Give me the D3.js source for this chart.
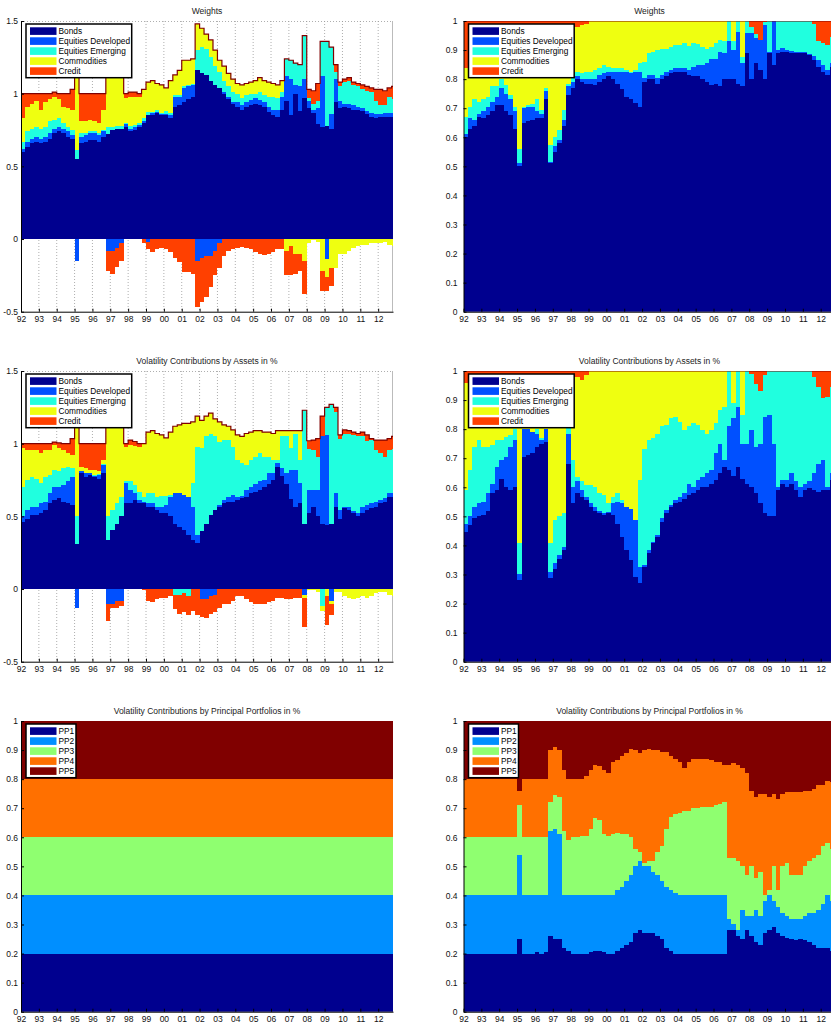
<!DOCTYPE html>
<html lang="en">
<head>
<meta charset="UTF-8">
<title>Weights and Volatility Contributions</title>
<script src="https://d3js.org/d3.v7.min.js"></script>
<style>
  body { margin: 0; background: #fff; }
  svg { display: block; font-family: "Liberation Sans", Arial, Helvetica, sans-serif; }
  .title { font-size: 8.5px; fill: #222; }
  .tick text { font-size: 8.5px; fill: #111; }
  .legend text { font-size: 8.3px; fill: #000; }
  .layer { shape-rendering: crispEdges; }
</style>
</head>
<body>
<svg width="831" height="1024"></svg>
<script>
// quarterly observations, Jan 1992 .. Oct 2012
const quarters = d3.range(84).map(i => 1992 + i / 4);
const endYear = 2012.83;
const yearTicks = ["92","93","94","95","96","97","98","99","00","01","02","03","04","05","06","07","08","09","10","11","12"];
const assetNames = ["Bonds", "Equities Developed", "Equities Emerging", "Commodities", "Credit"];
const ppNames = ["PP1", "PP2", "PP3", "PP4", "PP5"];

// ---- Weights (left) ----
const w1Bonds = [.60,.635,.66,.67,.66,.67,.69,.73,.74,.73,.70,.69, .55,.66,.67,.68,.68,.67,.70,.72,.75,.76,.76,.77,
  .74,.75,.77,.80,.85,.85,.865,.85,.85,.83,.91,.92, .945,.96,.98,1.16,1.14,1.13,1.09,1.06,1.04,1.00,.96,.93,
  .91,.89,.91,.92,.93,.92,.91,.875,.855,.84,.89,.95, .85,1.00,.88,.97,.90,.87,.79,.77,.78,.76,.94,.90,
  .91,.90,.89,.89,.88,.86,.84,.83,.84,.84,.84,.84];
const w1EqDev = [.02,.035,.025,.03,.03,.03,.04,.03,.03,.03,.04,.025, -.15,.04,.045,.05,.05,.045,.04,-.08,-.08,-.06,-.03,.02,
  .02,.02,.015,.01,-.02,.015,.01,.01,.01,.02,.07,.06, .095,.09,.08,-.15,-.13,-.12,-.12,-.08,-.03,.01,.02,.015,
  .035,.03,.035,.035,.04,.035,.035,.035,.035,.05,.09,.17, .25,.06,.17,.13,.05,.02,.11,.35,-.14,.10,.16,.05,
  .02,.03,.03,.02,.02,.02,.03,.03,.02,.03,.03,.03];
const w1EqEm = [.05,.07,.075,.07,.07,.07,.08,.06,.06,.04,.03,.035, .06,.03,.015,.01,.01,.015,.01,.05,.02,.02,.02,.01,
  .02,.015,.01,.02,.025,.01,.01,.01,.02,.015,.01,.01, .01,.01,.01,.14,.18,.18,.16,.13,.11,.08,.07,.065,
  .055,.05,.045,.045,.03,.055,.045,.07,.09,.08,.03,.12, .13,.15,.15,.30,.02,.04,.05,.24,.58,.46,.05,.10,
  .15,.16,.14,.14,.13,.14,.14,.09,.06,.05,.11,.09];
const w1Comm = [.16,.17,.17,.18,.13,.175,.15,.16,.13,.11,.13,.14, .52,.08,.08,.08,.07,.07,.14,.45,.43,.42,.37,.17,
  .20,.195,.185,.20,.205,.215,.185,.19,.16,.225,.14,.17, .18,.17,.17,.18,.13,.10,.12,.11,.08,.10,.09,.09,
  .07,.09,.08,.08,.09,.10,.10,.10,.09,.09,.08,-.08, -.05,-.10,-.10,-.15,-.03,-.01,-.02,-.22,-.12,-.20,-.20,-.10,
  -.10,-.08,-.06,-.05,-.04,-.04,-.03,-.03,-.03,-.02,-.04,-.05];
const w1Credit = [.17,.09,.07,.05,.11,.055,.04,.03,.04,.09,.10,.14, .02,.19,.19,.18,.19,.20,.11,-.14,-.16,-.13,-.12,.03,
  .03,.03,.02,-.03,-.05,-.09,-.07,-.06,-.07,-.09,-.13,-.16, -.23,-.23,-.24,-.32,-.30,-.28,-.21,-.17,-.17,-.12,-.08,-.07,
  -.06,-.055,-.06,-.07,-.09,-.10,-.11,-.10,-.09,-.07,-.07,-.17, -.20,-.14,-.12,-.23,.06,.09,.12,-.14,-.10,-.12,.05,.03,
  .02,.02,.02,.02,.03,.03,.03,.08,.11,.10,.06,.09];

// ---- Weights (right) ----
const w2Bonds = [.60,.63,.64,.67,.665,.675,.69,.71,.71,.69,.675,.63, .50,.65,.655,.66,.665,.665,.73,.51,.55,.58,.64,.745,
  .77,.80,.79,.785,.785,.78,.79,.80,.81,.80,.785,.765, .74,.73,.717,.705,.79,.80,.80,.785,.80,.81,.82,.825,
  .825,.825,.815,.81,.81,.80,.79,.78,.785,.775,.80,.80, .80,.785,.775,.89,.80,.855,.83,.80,.89,.85,.89,.894,
  .894,.89,.89,.89,.89,.883,.866,.843,.825,.815,.843,.85];
const w2EqDev = [.01,.035,.02,.01,.025,.03,.03,.03,.06,.06,.055,.06, .01,.05,.05,.045,.025,.015,.03,.005,.02,.01,.02,.03,
  .02,.01,.01,.015,.015,.02,.025,.02,.015,.025,.04,.06, .085,.09,.108,.12,.015,.015,.015,.02,.015,.015,.01,.012,
  .012,.012,.015,.033,.04,.05,.065,.09,.085,.12,.09,.13, .10,.178,.08,.07,.16,.085,.105,.185,.005,.15,.01,.012,
  .006,.006,.003,.003,.003,.003,.014,.023,.025,.015,.011,.01];
const w2EqEm = [.06,.04,.07,.04,.04,.035,.055,.035,.03,.03,.015,.015, .05,.005,.005,.01,.04,.015,.01,.06,.03,.035,.035,.01,
  .02,.015,.02,.025,.025,.03,.022,.03,.018,.012,.012,.012, .005,.005,.005,.03,.055,.075,.08,.095,.09,.08,.08,.08,
  .08,.086,.085,.08,.07,.06,.05,.04,.053,.04,.04,.07, .03,.037,.02,.04,.02,.017,0,.01,.105,0,.10,.094,
  .10,.104,.107,.107,.107,.114,.11,.064,.073,.087,.092,.09];
const w2Comm = [.17,.265,.25,.265,.255,.245,.21,.21,.185,.205,.24,.28, .425,.28,.275,.27,.255,.29,.215,.41,.385,.36,.29,.20,
  .17,.155,.165,.165,.175,.17,.163,.15,.157,.163,.163,.163, .17,.175,.17,.145,.14,.11,.105,.10,.095,.095,.09,.083,
  .083,.077,.085,.077,.08,.09,.095,.09,.077,.065,.07,0, .07,0,.125,0,0,0,0,0,0,0,0,0,
  0,0,0,0,0,0,0,0,0,0,0,0];
const w2Credit = [.16,.03,.02,.015,.015,.015,.015,.015,.015,.015,.015,.015, .015,.015,.015,.015,.015,.015,.015,.015,.015,.015,.015,.015,
  .02,.02,.015,.01,0,0,0,0,0,0,0,0, 0,0,0,0,0,0,0,0,0,0,0,0,
  0,0,0,0,0,0,0,0,0,0,0,0, 0,0,0,0,.02,.043,.065,.005,0,0,0,0,
  0,0,0,0,0,0,.01,.07,.077,.083,.054,.05];

// ---- Volatility contributions by assets (left) ----
const v1Bonds = [.46,.485,.51,.51,.52,.545,.59,.61,.625,.60,.59,.58, .31,.795,.77,.785,.77,.76,.795,.34,.405,.45,.50,.59,
  .59,.61,.59,.59,.565,.565,.545,.52,.52,.50,.45,.43, .405,.37,.34,.315,.40,.45,.51,.545,.565,.59,.60,.60,
  .61,.625,.635,.66,.67,.68,.705,.725,.75,.84,.775,.725, .62,.565,.59,.45,.52,.565,.50,.45,.44,.45,.565,.485,
  .555,.545,.52,.50,.52,.545,.555,.565,.59,.60,.635,.635];
const v1EqDev = [.04,.06,.055,.055,.07,.055,.07,.09,.075,.115,.15,.19, -.13,.015,.025,.01,.01,.025,.06,-.10,-.10,-.08,-.08,.14,
  .09,.05,.02,.01,.025,.025,.02,.045,.06,.135,.21,.23, .24,.265,.225,.055,-.07,-.07,-.05,-.04,.015,.02,.035,.045,
  .025,.015,.045,.04,.055,.06,.045,.07,.045,.025,.055,.07, .20,.255,.14,-.04,.16,.115,.18,.60,.62,-.08,.095,.06,
  .01,.02,.02,.02,.045,.035,.035,.035,.02,.025,.025,.025];
const v1EqEm = [.20,.205,.205,.195,.14,.17,.125,.12,.11,.115,.10,.06, .19,0,.005,.005,.005,.005,.005,.16,.14,.14,.135,.01,
  .06,.055,.06,.035,.07,.07,.07,.075,.06,.01,-.04,-.04, -.03,-.05,.165,.61,.57,.60,.56,.505,.43,.415,.39,.335,
  .255,.225,.175,.19,.185,.195,.16,.115,.095,.025,.22,.255, .15,.25,.16,.78,.28,.275,.23,-.12,.19,.82,.56,.49,
  .50,.505,.52,.53,.49,.435,.435,.355,.325,.285,.295,.30];
const v1Comm = [.27,.205,.185,.195,.205,.185,.17,.17,.16,.125,.095,.09, .70,.03,.03,.02,.035,.02,.03,.70,.655,.56,.485,.24,
  .25,.27,.31,.365,.42,.43,.435,.42,.40,.435,.46,.47, .495,.505,.42,.21,.19,.14,.14,.12,.14,.105,.095,.115,
  .17,.185,.215,.19,.18,.155,.17,.17,.18,.20,.04,.04, .12,.02,.20,-.02,-.01,-.01,-.02,-.03,-.05,-.02,-.02,-.02,
  -.05,-.06,-.07,-.06,-.05,-.06,-.05,-.03,-.02,-.02,-.04,-.05];
const v1Credit = [.03,.045,.045,.045,.065,.045,.045,.02,.035,.045,.065,.115, .01,.16,.17,.18,.18,.19,.11,-.12,-.03,-.05,-.04,.02,
  .035,.03,.02,-.01,-.08,-.09,-.07,-.06,-.06,-.05,-.10,-.13, -.13,-.13,-.15,-.18,-.12,-.13,-.12,-.12,-.13,-.10,-.10,-.08,
  -.05,-.05,-.07,-.09,-.10,-.10,-.10,-.09,-.08,-.06,-.06,-.07, -.07,-.06,-.06,-.20,.06,.07,.125,.14,-.20,-.08,.03,.025,
  .03,.02,.02,.02,.025,.045,.01,.07,.09,.115,.08,.09];

// ---- Volatility contributions by assets (right) ----
const v2Bonds = [.447,.47,.493,.50,.505,.52,.58,.59,.63,.60,.59,.60, .28,.705,.71,.717,.74,.75,.757,.287,.32,.355,.385,.68,
  .545,.58,.568,.556,.533,.52,.51,.505,.51,.505,.475,.43, .385,.35,.29,.27,.327,.373,.407,.43,.48,.51,.533,.545,
  .55,.56,.573,.58,.59,.60,.60,.613,.625,.648,.67,.66, .64,.67,.63,.613,.60,.58,.545,.51,.50,.50,.59,.613,
  .60,.613,.59,.568,.59,.596,.59,.585,.59,.59,.625,.63];
const v2EqDev = [.028,.03,.04,.045,.045,.06,.033,.08,.064,.105,.15,.163, .02,.095,.09,.073,.045,.013,.043,.02,.02,.012,.01,.105,
  .055,.04,.022,.012,.012,.013,.01,.005,.005,.04,.075,.115, .148,.177,.197,.057,.006,.011,.006,.006,.013,.012,.007,.011,
  .018,.02,.04,.02,.035,.036,.048,.047,.092,.102,.024,.15, .20,.207,.12,.137,.197,.16,.205,.333,.35,.25,.01,.012,
  .025,.035,.03,.032,.023,.024,.058,.095,.104,.01,.023,.02];
const v2EqEm = [.115,.16,.207,.218,.19,.16,.132,.093,.07,.069,.04,.037, .11,0,0,0,.015,.007,0,.103,.147,.133,.115,.03,
  .094,.016,.03,.04,.063,.067,.06,.063,.03,.023,.03,.011, 0,0,0,.298,.40,.379,.355,.349,.317,.292,.297,.287,
  .258,.217,.197,.22,.189,.161,.137,.137,.103,.116,.183,.19, .05,.123,.10,.25,.193,.217,.18,.143,.15,.25,.40,.375,
  .375,.352,.38,.40,.387,.38,.332,.266,.212,.31,.298,.30];
const v2Comm = [.37,.32,.245,.222,.245,.245,.24,.222,.221,.211,.205,.185, .57,.185,.185,.195,.185,.215,.185,.575,.498,.485,.475,.17,
  .286,.344,.35,.377,.392,.40,.42,.427,.455,.432,.42,.444, .467,.473,.513,.375,.267,.237,.232,.215,.19,.186,.163,.157,
  .174,.203,.19,.18,.186,.203,.215,.203,.18,.134,.123,0, .11,0,.15,0,0,0,0,0,0,0,0,0,
  0,0,0,0,0,0,0,0,0,0,0,0];
const v2Credit = [.04,.02,.015,.015,.015,.015,.015,.015,.015,.015,.015,.015, .02,.015,.015,.015,.015,.015,.015,.015,.015,.015,.015,.015,
  .02,.02,.03,.015,0,0,0,0,0,0,0,0, 0,0,0,0,0,0,0,0,0,0,0,0,
  0,0,0,0,0,0,0,0,0,0,0,0, 0,0,0,0,.01,.043,.07,.014,0,0,0,0,
  0,0,0,0,0,0,.02,.054,.094,.09,.054,.05];

// ---- Volatility contributions by principal portfolios ----
const pp1Dates = [1992];
const pp1Values = [[.2], [.2], [.2], [.2], [.2]];

const pp2PP1 = [.2,.2,.2,.2,.2,.2,.2,.2,.2,.2,.2,.2, .25,.20,.20,.20,.205,.20,.205,.26,.25,.25,.22,.21,
  .20,.20,.20,.20,.205,.21,.21,.205,.20,.20,.21,.22, .23,.24,.27,.28,.27,.27,.27,.26,.25,.22,.21,.20,
  .20,.20,.20,.20,.20,.20,.20,.20,.20,.20,.20,.28, .28,.26,.25,.28,.26,.24,.23,.27,.28,.29,.27,.26,
  .255,.25,.245,.25,.245,.24,.23,.22,.22,.22,.21,.21];
const pp2PP2 = [.2,.2,.2,.2,.2,.2,.2,.2,.2,.2,.2,.2, .29,.20,.20,.20,.195,.20,.195,.36,.38,.36,.18,.19,
  .20,.20,.20,.20,.195,.19,.19,.195,.20,.20,.21,.21, .22,.23,.23,.24,.23,.23,.21,.21,.20,.21,.21,.21,
  .20,.20,.20,.20,.20,.20,.20,.20,.20,.20,.20,.04, .02,.02,.10,.05,.07,.11,.10,.11,.12,.09,.09,.08,
  .075,.07,.075,.07,.085,.10,.11,.13,.15,.18,.17,.16];
const pp2PP3 = [.2,.2,.2,.2,.2,.2,.2,.2,.2,.2,.2,.2, .17,.20,.20,.20,.20,.20,.20,.10,.115,.13,.22,.19,
  .20,.20,.205,.205,.23,.265,.26,.21,.205,.21,.195,.18, .16,.13,.06,.03,.01,.02,.04,.08,.12,.20,.25,.27,
  .285,.29,.29,.30,.30,.305,.305,.305,.31,.315,.32,.21, .23,.24,.15,.14,.17,.11,.15,.02,.02,.12,.06,.16,
  .18,.15,.15,.15,.17,.18,.19,.19,.20,.18,.18,.18];
const pp2PP4 = [.2,.2,.2,.2,.2,.2,.2,.2,.2,.2,.2,.2, .05,.20,.20,.20,.20,.20,.20,.18,.165,.16,.21,.21,
  .20,.20,.195,.205,.20,.185,.185,.22,.215,.25,.25,.27, .28,.305,.34,.34,.39,.385,.38,.35,.325,.265,.21,.19,
  .175,.15,.17,.17,.17,.165,.165,.16,.15,.145,.13,.32, .325,.33,.34,.35,.26,.28,.27,.35,.32,.25,.31,.25,
  .245,.285,.285,.285,.26,.24,.235,.24,.21,.215,.23,.23];
const pp2PP5 = [.2,.2,.2,.2,.2,.2,.2,.2,.2,.2,.2,.2, .24,.20,.20,.20,.20,.20,.20,.10,.09,.10,.17,.20,
  .20,.20,.20,.19,.17,.15,.155,.17,.18,.14,.135,.12, .11,.095,.10,.11,.10,.095,.10,.10,.105,.105,.12,.13,
  .14,.16,.14,.13,.13,.13,.13,.135,.14,.14,.15,.15, .145,.15,.16,.18,.24,.26,.25,.25,.26,.25,.27,.25,
  .245,.245,.245,.245,.24,.24,.235,.22,.22,.205,.21,.22];

const assetColors = ["#00008f", "#0050ff", "#20ffdf", "#efff10", "#ff4000"];
const ppColors = ["#00008f", "#008fff", "#8fff70", "#ff7000", "#800000"];
const edgeColor = "#800000";

const panels = [
  {title: "Weights", col: 0, row: 0, dates: quarters, names: assetNames, colors: assetColors, edge: true,
   series: [w1Bonds, w1EqDev, w1EqEm, w1Comm, w1Credit], yDomain: [-0.5, 1.5], yTicks: [-0.5, 0, 0.5, 1, 1.5]},
  {title: "Weights", col: 1, row: 0, dates: quarters, names: assetNames, colors: assetColors, edge: true,
   series: [w2Bonds, w2EqDev, w2EqEm, w2Comm, w2Credit], yDomain: [0, 1], yTicks: d3.range(0, 1.01, 0.1)},
  {title: "Volatility Contributions by Assets in %", col: 0, row: 1, dates: quarters, names: assetNames, colors: assetColors, edge: true,
   series: [v1Bonds, v1EqDev, v1EqEm, v1Comm, v1Credit], yDomain: [-0.5, 1.5], yTicks: [-0.5, 0, 0.5, 1, 1.5]},
  {title: "Volatility Contributions by Assets in %", col: 1, row: 1, dates: quarters, names: assetNames, colors: assetColors, edge: true,
   series: [v2Bonds, v2EqDev, v2EqEm, v2Comm, v2Credit], yDomain: [0, 1], yTicks: d3.range(0, 1.01, 0.1)},
  {title: "Volatility Contributions by Principal Portfolios in %", col: 0, row: 2, dates: pp1Dates, names: ppNames, colors: ppColors, edge: false,
   series: pp1Values, yDomain: [0, 1], yTicks: d3.range(0, 1.01, 0.1)},
  {title: "Volatility Contributions by Principal Portfolios in %", col: 1, row: 2, dates: quarters, names: ppNames, colors: ppColors, edge: false,
   series: [pp2PP1, pp2PP2, pp2PP3, pp2PP4, pp2PP5], yDomain: [0, 1], yTicks: d3.range(0, 1.01, 0.1)}
];

const svg = d3.select("svg");
const colLeft = [21, 463.5], plotW = 372;
const rowTop = [21, 371, 721], plotH = 290.7;
const yearVals = yearTicks.map((d, i) => 1992 + i);
const fmt = d => String(Math.round(d * 10) / 10);

panels.forEach((p, pi) => {
  const x0 = colLeft[p.col], top = rowTop[p.row], bottom = top + plotH;
  const x = d3.scaleLinear().domain([1992, endYear]).range([x0, x0 + plotW]);
  const y = d3.scaleLinear().domain(p.yDomain).range([bottom, top]);
  const g = svg.append("g");

  g.append("clipPath").attr("id", "clip" + pi)
    .append("rect").attr("x", x0).attr("y", top).attr("width", plotW).attr("height", plotH);

  // dotted year grid
  g.selectAll(".grid").data(yearVals.slice(1)).join("line")
    .attr("x1", d => x(d)).attr("x2", d => x(d))
    .attr("y1", top).attr("y2", bottom)
    .attr("stroke", "#999").attr("stroke-width", 0.8).attr("stroke-dasharray", "1,2");
  g.append("line").attr("x1", x0).attr("x2", x0 + plotW).attr("y1", top + 0.5).attr("y2", top + 0.5)
    .attr("stroke", "#999").attr("stroke-width", 0.8).attr("stroke-dasharray", "1,2");
  g.append("line").attr("x1", x0 + plotW - 0.5).attr("x2", x0 + plotW - 0.5).attr("y1", top).attr("y2", bottom)
    .attr("stroke", "#aaa").attr("stroke-width", 0.8);

  const rows = p.dates.map((t, i) => {
    const r = {t};
    p.series.forEach((s, k) => { r[k] = s[i]; });
    return r;
  });
  rows.push(Object.assign({}, rows[rows.length - 1], {t: endYear}));
  const keys = p.series.map((s, k) => k);
  const stacked = d3.stack().keys(keys).offset(d3.stackOffsetDiverging)(rows);

  const area = d3.area().curve(d3.curveStepAfter)
    .x(d => x(d.data.t)).y0(d => y(d[0])).y1(d => y(d[1]));

  const plot = g.append("g").attr("clip-path", `url(#clip${pi})`);
  plot.selectAll("path.layer").data(stacked).join("path")
    .attr("class", "layer")
    .attr("fill", (d, i) => p.colors[i])
    .attr("d", area);

  if (p.edge) {
    const topLine = d3.line().curve(d3.curveStepAfter)
      .x(d => x(d.t)).y(d => y(d3.sum(keys, k => Math.max(0, d[k]))));
    plot.append("path").datum(rows)
      .attr("fill", "none").attr("stroke", edgeColor).attr("stroke-width", 1.2)
      .attr("d", topLine);
  }

  // axes
  const yAxis = d3.axisLeft(y).tickValues(p.yTicks).tickFormat(fmt)
    .tickSize(-3).tickSizeOuter(0).tickPadding(p.col ? 6 : 3);
  g.append("g").attr("transform", `translate(${x0},0)`).call(yAxis)
    .call(a => a.select(".domain").attr("stroke", "#000"));
  const xAxis = d3.axisBottom(x).tickValues(yearVals).tickFormat((d, i) => yearTicks[i])
    .tickSize(-3).tickSizeOuter(0).tickPadding(4);
  g.append("g").attr("transform", `translate(0,${bottom})`).call(xAxis)
    .call(a => a.select(".domain").attr("stroke", "#000"));
  g.selectAll(".tick text").attr("font-family", null).attr("font-size", null);

  g.append("text").attr("class", "title")
    .attr("x", x0 + plotW / 2).attr("y", top - 7)
    .attr("text-anchor", "middle").text(p.title);

  // legend
  const lw = p.names === assetNames ? 105.7 : 50;
  const lg = g.append("g").attr("class", "legend")
    .attr("transform", `translate(${x0 + 5},${top + 3})`);
  lg.append("rect").attr("width", lw).attr("height", 53.7)
    .attr("fill", "#fff").attr("stroke", "#000").attr("stroke-width", 1.5);
  p.names.forEach((n, i) => {
    lg.append("rect").attr("x", 4).attr("y", 3.3 + 10 * i).attr("width", 26.5).attr("height", 7.6)
      .attr("fill", p.colors[i]);
    lg.append("text").attr("x", 32.5).attr("y", 7 + 10 * i).attr("dy", "0.35em").text(n);
  });
});
</script>
</body>
</html>
